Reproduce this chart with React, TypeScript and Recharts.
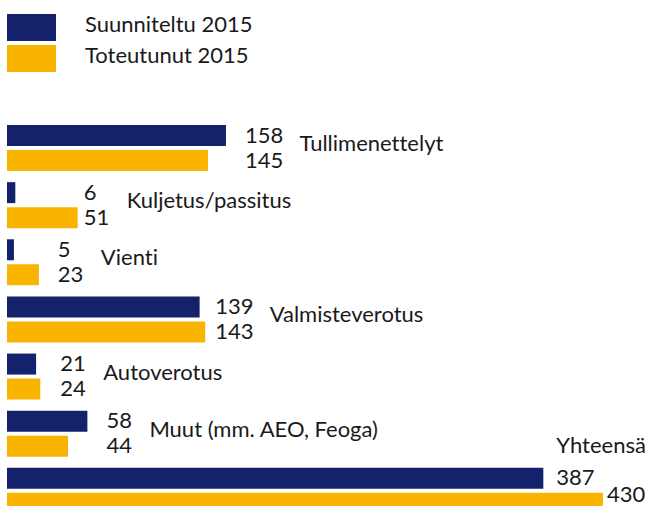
import { BarChart, Bar, XAxis, YAxis, Legend, LabelList } from 'recharts';

const categories = [
  'Tullimenettelyt',
  'Kuljetus/passitus',
  'Vienti',
  'Valmisteverotus',
  'Autoverotus',
  'Muut (mm. AEO, Feoga)',
  'Yhteensä',
];
const suunniteltu = [158, 6, 5, 139, 21, 58, 387];
const toteutunut = [145, 51, 23, 143, 24, 44, 430];

const NAVY = '#13226b';
const GOLD = '#f9b400';
const TEXT = '#1a1a1a';
const FONT = 'Lato, sans-serif';
const FONT_SIZE = 22;
const noLig = { fontVariantLigatures: 'none' } as const;

// space between the longer bar of a row and its numbers (hand placed in the original)
const labelGap = [19, 6, 19, 10, 20, 19, 13];

const data = categories.map((name, i) => ({
  name,
  suunniteltu: suunniteltu[i],
  toteutunut: toteutunut[i],
}));

type SeriesKey = 'suunniteltu' | 'toteutunut';

const makeLabel = (series: SeriesKey) => (props: any) => {
  const { x, y, width, height, index } = props;
  const row = data[index];
  const own = row[series];
  const perUnit = width / own;
  const longest = Math.max(row.suunniteltu, row.toteutunut);
  const isTotal = index === data.length - 1;

  const labelX = isTotal
    ? x + width + (series === 'suunniteltu' ? 13 : 4)
    : x + longest * perUnit + labelGap[index];
  const cy = y + height / 2;
  // the last number sits on the lower edge of the picture
  const baseline = isTotal && series === 'toteutunut' ? cy - 1 : cy + 7;

  const digits = Math.max(String(row.suunniteltu).length, String(row.toteutunut).length);
  let nameEl = null;
  if (series === 'suunniteltu') {
    const nameX = isTotal ? labelX : labelX + digits * 11.5 + 20;
    const nameY = isTotal ? y - 22 : y + height - 2;
    nameEl = (
      <text x={nameX} y={nameY + 7} fill={TEXT} fontFamily={FONT} fontSize={FONT_SIZE} style={noLig}>
        {row.name}
      </text>
    );
  }

  return (
    <g>
      <text x={labelX} y={baseline} fill={TEXT} fontFamily={FONT} fontSize={FONT_SIZE}>
        {own}
      </text>
      {nameEl}
    </g>
  );
};

const LegendBox = ({ payload }: any) => (
  <div>
    {(payload || []).map((item: any) => (
      <div
        key={item.value}
        style={{ display: 'flex', alignItems: 'center', height: 27, marginBottom: 4 }}
      >
        <div style={{ width: 49, height: 27, background: item.color }} />
        <span
          style={{
            marginLeft: 29,
            marginTop: -8,
            fontFamily: FONT,
            fontSize: FONT_SIZE,
            color: TEXT,
            whiteSpace: 'nowrap',
            ...noLig,
          }}
        >
          {item.value}
        </span>
      </div>
    ))}
  </div>
);

export default function App() {
  return (
    <div
      style={{
        position: 'fixed',
        left: 0,
        top: 0,
        width: 652,
        height: 506,
        overflow: 'hidden',
        background: '#fff',
      }}
    >
      <BarChart
        width={652}
        height={540}
        data={data}
        layout="vertical"
        margin={{ top: 119, right: 38, bottom: 21, left: 7 }}
        barSize={21}
        barGap={4}
      >
        <XAxis type="number" domain={[0, 438]} allowDataOverflow hide />
        <YAxis type="category" dataKey="name" hide />
        <Legend
          layout="horizontal"
          align="center"
          verticalAlign="middle"
          content={<LegendBox />}
          wrapperStyle={{ top: 14, left: 7, width: 300, height: 60 }}
        />
        <Bar dataKey="suunniteltu" name="Suunniteltu 2015" fill={NAVY} isAnimationActive={false}>
          <LabelList dataKey="suunniteltu" content={makeLabel('suunniteltu')} />
        </Bar>
        <Bar dataKey="toteutunut" name="Toteutunut 2015" fill={GOLD} isAnimationActive={false}>
          <LabelList dataKey="toteutunut" content={makeLabel('toteutunut')} />
        </Bar>
      </BarChart>
    </div>
  );
}
